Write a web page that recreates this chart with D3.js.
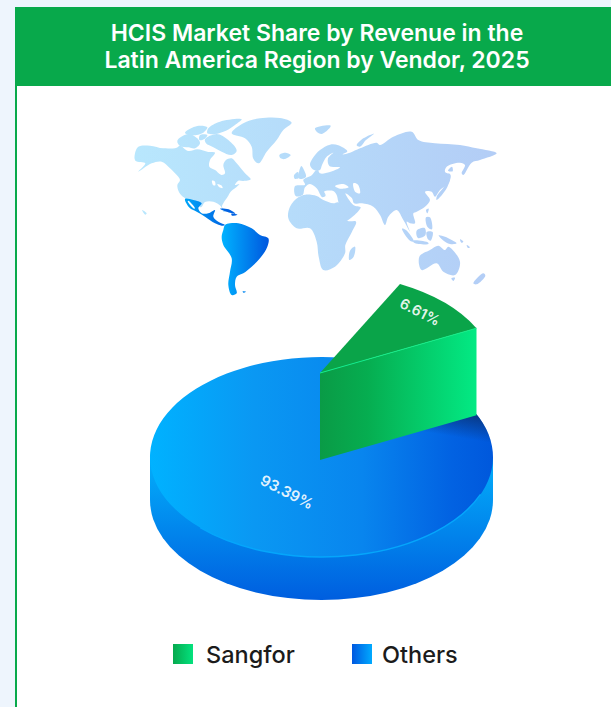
<!DOCTYPE html>
<html lang="en">
<head>
    <meta charset="UTF-8">
    <title>HCIS Market Share</title>
    <script src="https://cdn.jsdelivr.net/npm/d3@7"></script>
    <style>
        html, body { margin: 0; padding: 0; background: #eef5fd; }
        svg { display: block; }
        text { font-family: "Inter", "Open Sans", sans-serif; }
    </style>
</head>
<body>
    <div id="chart"></div>

    <script>
        // Data
        const categories = ["Sangfor", "Others"];
        const shares = [6.61, 93.39];
        const shareLabels = ["6.61%", "93.39%"];
        const titleLines = ["HCIS Market Share by Revenue in the", "Latin America Region by Vendor, 2025"];

        // Map outlines, traced in a 1170 x 570 map space
        const paleLand = [
            // North America
            [[45,130],[55,110],[90,107],[130,115],[170,113],[180,107],[205,123],[232,118],[262,125],[285,128],[270,150],[268,170],[285,180],[305,195],[315,190],[310,165],[318,150],[335,145],[350,160],[375,190],[392,208],[370,213],[355,212],[345,225],[358,222],[345,235],[332,245],[322,262],[310,280],[306,290],[316,305],[310,305],[302,288],[280,275],[255,276],[243,292],[222,272],[198,266],[178,248],[172,225],[180,210],[165,190],[150,175],[125,155],[95,160],[55,185],[76,160],[46,152]],
            // Arctic islands
            [[172,92],[205,72],[232,85],[240,100],[225,115],[205,112],[180,108]],
            [[195,68],[232,48],[262,52],[250,68],[215,76]],
            [[265,55],[300,35],[365,28],[345,45],[318,62],[285,72],[262,70]],
            [[255,88],[290,72],[325,90],[350,122],[335,135],[305,125],[280,112],[258,100]],
            [[240,75],[262,75],[252,88],[238,90]],
            // Greenland, Iceland, Svalbard, Novaya Zemlya
            [[335,70],[370,40],[420,25],[480,24],[515,38],[490,60],[470,90],[440,125],[416,160],[400,146],[395,110],[375,85]],
            [[478,135],[495,128],[512,135],[495,147],[482,145]],
            [[585,55],[632,47],[625,58],[605,72],[590,65]],
            [[710,106],[730,85],[762,71],[738,90],[720,110]],
            // Britain, Ireland
            [[536,205],[544,168],[552,180],[558,200],[548,206]],
            [[522,196],[534,186],[536,204],[524,206]],
            // Eurasia
            [[525,228],[555,224],[550,210],[575,196],[592,178],[600,190],[630,186],[660,172],[628,168],[624,145],[640,128],[620,140],[606,165],[600,180],[582,180],[570,165],[578,145],[600,120],[630,104],[655,106],[682,124],[668,133],[690,128],[720,115],[770,98],[780,105],[820,80],[875,65],[895,90],[945,100],[1020,105],[1070,115],[1130,130],[1080,150],[1055,158],[1030,195],[1025,190],[1035,165],[1020,158],[980,170],[975,185],[990,195],[985,220],[960,240],[945,260],[935,245],[915,245],[930,270],[915,290],[890,305],[880,310],[885,340],[870,340],[860,335],[870,365],[850,330],[830,300],[805,320],[795,345],[780,315],[760,290],[726,280],[702,280],[696,265],[676,250],[700,285],[722,292],[716,302],[690,326],[676,332],[655,275],[650,255],[640,243],[612,245],[620,262],[605,238],[595,226],[617,256],[607,262],[590,235],[570,222],[555,232],[548,255],[527,258]],
            // Africa
            [[510,290],[535,262],[556,254],[590,258],[610,270],[640,280],[655,277],[682,332],[708,335],[696,365],[676,405],[675,430],[645,470],[610,480],[596,440],[590,395],[570,355],[530,355],[505,325]],
            [[690,422],[705,410],[701,440],[688,450]],
            // Japan, Taiwan, Philippines
            [[950,270],[980,235],[992,196],[986,190],[975,225],[950,260]],
            [[984,182],[996,170],[998,184]],
            [[918,300],[926,296],[922,310]],
            [[918,322],[930,322],[936,358],[922,350]],
            // Indonesia, New Guinea
            [[846,356],[858,360],[882,395],[870,392]],
            [[890,362],[914,354],[916,376],[894,384]],
            [[880,392],[925,398],[925,402],[882,398]],
            [[920,366],[938,366],[932,392],[924,388]],
            [[956,376],[975,380],[1010,400],[990,402],[968,390]],
            [[1020,388],[1030,395],[1024,398]],
            [[1040,405],[1050,412],[1044,414]],
            // Australia, Tasmania, New Zealand
            [[898,440],[930,420],[955,407],[975,420],[985,410],[1020,455],[1005,495],[970,485],[950,460],[905,480]],
            [[994,505],[1005,503],[1000,513]],
            [[1060,520],[1090,490],[1096,497],[1070,523]],
            // Hawaii
            [[66,300],[80,310],[76,314]]
        ];
        // Seas cut out of the land
        const seas = [
            [[276,212],[284,214],[286,226],[280,226]],
            [[292,222],[304,226],[308,234],[298,232]],
            [[645,228],[670,222],[686,232],[660,236]],
            [[700,220],[714,224],[720,250],[706,246]]
        ];
        const centralAmerica = [
            [[195,267],[220,270],[245,280],[235,295],[245,310],[265,310],[285,300],[280,320],[295,335],[315,345],[305,347],[285,340],[255,320],[230,305],[210,295]],
            [[300,296],[326,298],[346,311],[320,305]],
            [[334,311],[352,314],[336,317]]
        ];
        const southAmerica = [
            [[315,345],[330,340],[355,340],[395,355],[420,375],[445,385],[442,410],[420,445],[395,470],[370,490],[350,500],[345,525],[350,550],[335,555],[325,525],[330,485],[335,445],[310,405],[305,380],[310,360]],
            [[368,544],[378,545],[370,548]]
        ];
        const bajaGap = [[[205,272],[225,295],[222,296],[203,274]]];

        const width = 611;
        const height = 707;

        const svg = d3.select("#chart")
            .append("svg")
            .attr("width", width)
            .attr("height", height);

        const defs = svg.append("defs");

        // Helper for the many gradients in this picture
        function addGradient(id, stops, coords, userSpace) {
            const g = defs.append("linearGradient")
                .attr("id", id)
                .attr("x1", coords[0]).attr("y1", coords[1])
                .attr("x2", coords[2]).attr("y2", coords[3]);
            if (userSpace) g.attr("gradientUnits", "userSpaceOnUse");
            stops.forEach(s => {
                g.append("stop")
                    .attr("offset", s[0])
                    .attr("stop-color", s[1])
                    .attr("stop-opacity", s[2] === undefined ? 1 : s[2]);
            });
        }

        addGradient("paleLand", [[0, "#b8e7fd"], [1, "#b3cdf6"]], [135, 0, 497, 0], true);
        addGradient("central", [[0, "#02a4f8"], [1, "#0062e2"]], [186, 0, 226, 0], true);
        addGradient("south", [[0, "#00b2ff"], [1, "#0056de"]], [222, 0, 269, 0], true);
        addGradient("blueTop", [[0, "#00b2ff"], [0.3, "#0a98f3"], [0.62, "#0885ee"], [0.88, "#0262e2"], [1, "#0058dc"]], ["0%", "0%", "100%", "0%"]);
        addGradient("blueRim", [[0, "#02a8f8"], [1, "#005edf"]], [0, 470, 0, 600], true);
        addGradient("blueShadow", [[0, "#0a2f6e", 0.95], [1, "#0a2f6e", 0]], [479, 410, 474, 440], true);
        addGradient("greenTop", [[0, "#0aa449"], [1, "#07e07b"]], [395, 292, 368, 372], true);
        addGradient("greenSide", [[0, "#0a9b46"], [0.3, "#06ad50"], [1, "#03ea84"]], [320, 0, 477, 0], true);
        addGradient("legendSangfor", [[0, "#06a94e"], [1, "#04e27e"]], ["0%", "0%", "100%", "0%"]);
        addGradient("legendOthers", [[0, "#0058e0"], [1, "#00aaff"]], ["0%", "0%", "100%", "0%"]);

        defs.append("filter").attr("id", "soft")
            .append("feGaussianBlur").attr("stdDeviation", 0.3);

        // Card and header
        svg.append("rect")
            .attr("x", 15).attr("y", 7)
            .attr("width", width - 15).attr("height", height - 7)
            .attr("fill", "#08a94b");
        svg.append("rect")
            .attr("x", 17).attr("y", 86)
            .attr("width", width - 17).attr("height", height - 86)
            .attr("fill", "#ffffff");

        svg.selectAll(".title")
            .data(titleLines)
            .enter().append("text")
            .attr("class", "title")
            .attr("x", 317)
            .attr("y", (d, i) => 41 + i * 27)
            .attr("text-anchor", "middle")
            .attr("font-size", 23)
            .attr("font-weight", 600)
            .attr("fill", "#ffffff")
            .text(d => d);

        // World map
        const mapX = d3.scaleLinear().domain([0, 1170]).range([120, 510]);
        const mapY = d3.scaleLinear().domain([0, 570]).range([110, 300]);
        const outline = d3.line()
            .x(d => mapX(d[0]))
            .y(d => mapY(d[1]))
            .curve(d3.curveCatmullRomClosed.alpha(0.5));

        const mapGroup = svg.append("g").attr("filter", "url(#soft)");

        function drawLand(rings, fill) {
            mapGroup.append("g").selectAll("path")
                .data(rings)
                .enter().append("path")
                .attr("d", outline)
                .attr("fill", fill);
        }
        drawLand(paleLand, "url(#paleLand)");
        drawLand(seas, "#ffffff");
        drawLand(centralAmerica, "url(#central)");
        drawLand(bajaGap, "#ffffff");
        drawLand(southAmerica, "url(#south)");

        // Pie geometry
        const cx = 321.5;
        const cy = 457;
        const rx = 171.5;
        const ry = 100;
        const depth = 43;
        const sliceCx = 320;
        const sliceCy = 460;
        const sliceRx = 175;
        const lift = 87;

        const arcs = d3.pie().sort(null).value(d => d)(shares);

        // The picture draws the small slice wider than its true share,
        // so pie angles are mapped onto the angles seen in the picture
        const deg = Math.PI / 180;
        const angle = d3.scaleLinear()
            .domain([0, arcs[0].endAngle, 2 * Math.PI])
            .range([27.2 * deg, 63.4 * deg, 387.2 * deg]);

        const arc = d3.arc()
            .innerRadius(0)
            .startAngle(d => angle(d.startAngle))
            .endAngle(d => angle(d.endAngle));

        const pieGroup = svg.append("g");

        // Blue rim below the top face
        pieGroup.append("rect")
            .attr("x", cx - rx).attr("y", cy)
            .attr("width", 2 * rx).attr("height", depth)
            .attr("fill", "url(#blueRim)");
        pieGroup.append("ellipse")
            .attr("cx", cx).attr("cy", cy + depth)
            .attr("rx", rx).attr("ry", ry)
            .attr("fill", "url(#blueRim)");

        // Blue top face
        pieGroup.append("path")
            .attr("transform", `translate(${cx},${cy}) scale(1,${ry / rx})`)
            .attr("d", arc.outerRadius(rx)(arcs[1]))
            .attr("fill", "url(#blueTop)");

        // Light rim along the front edge
        pieGroup.append("path")
            .attr("transform", `translate(${cx},${cy}) scale(1,${ry / rx})`)
            .attr("d", d3.arc().innerRadius(rx).outerRadius(rx)
                .startAngle(112 * deg).endAngle(225 * deg)())
            .attr("fill", "none")
            .attr("stroke", "#05a6fb")
            .attr("stroke-width", 1.4)
            .attr("vector-effect", "non-scaling-stroke");

        // Shadow thrown on the blue by the green slice
        defs.append("clipPath").attr("id", "blueClip")
            .append("path")
            .attr("transform", `translate(${cx},${cy}) scale(1,${ry / rx})`)
            .attr("d", arc.outerRadius(rx)(arcs[1]));
        pieGroup.append("rect")
            .attr("x", 380).attr("y", 400)
            .attr("width", 120).attr("height", 70)
            .attr("fill", "url(#blueShadow)")
            .attr("clip-path", "url(#blueClip)");

        // Green slice, lifted off the pie
        const sliceEnd = [
            sliceCx + sliceRx * Math.sin(angle(arcs[0].endAngle)),
            sliceCy - ry * Math.cos(angle(arcs[0].endAngle))
        ];
        pieGroup.append("path")
            .attr("d", d3.line()([
                [sliceCx, sliceCy - lift],
                [sliceEnd[0], sliceEnd[1] - lift],
                sliceEnd,
                [sliceCx, sliceCy]
            ]))
            .attr("fill", "url(#greenSide)");
        pieGroup.append("path")
            .attr("transform", `translate(${sliceCx},${sliceCy - lift}) scale(1,${ry / sliceRx})`)
            .attr("d", arc.outerRadius(sliceRx)(arcs[0]))
            .attr("fill", "url(#greenTop)");
        pieGroup.append("line")
            .attr("x1", sliceCx).attr("y1", sliceCy - lift)
            .attr("x2", sliceEnd[0]).attr("y2", sliceEnd[1] - lift)
            .attr("stroke", "#14ee8a")
            .attr("stroke-width", 1);

        // Share labels lie on the tilted faces
        const labelPlace = [
            { x: 420, y: 312, r: 27, size: 14.5 },
            { x: 287, y: 492, r: 27, size: 15 }
        ];
        pieGroup.selectAll(".share")
            .data(shareLabels)
            .enter().append("text")
            .attr("class", "share")
            .attr("transform", (d, i) => `translate(${labelPlace[i].x},${labelPlace[i].y}) rotate(${labelPlace[i].r})`)
            .attr("text-anchor", "middle")
            .attr("dy", "0.35em")
            .attr("font-size", (d, i) => labelPlace[i].size)
            .attr("font-weight", 600)
            .attr("fill", "#ffffff")
            .attr("fill-opacity", 0.9)
            .text(d => d);

        // Legend
        const legendX = d3.scaleOrdinal().domain(categories).range([173, 352]);
        const legendFill = d3.scaleOrdinal().domain(categories).range(["url(#legendSangfor)", "url(#legendOthers)"]);

        const legend = svg.selectAll(".legend")
            .data(categories)
            .enter().append("g")
            .attr("class", "legend")
            .attr("transform", d => `translate(${legendX(d)},644)`);
        legend.append("rect")
            .attr("width", 20).attr("height", 20)
            .attr("fill", d => legendFill(d));
        legend.append("text")
            .attr("x", d => d === categories[0] ? 33 : 30)
            .attr("y", 18.5)
            .attr("font-size", 23.5)
            .attr("font-weight", 500)
            .attr("fill", "#1b1b1b")
            .text(d => d);
    </script>
</body>
</html>
